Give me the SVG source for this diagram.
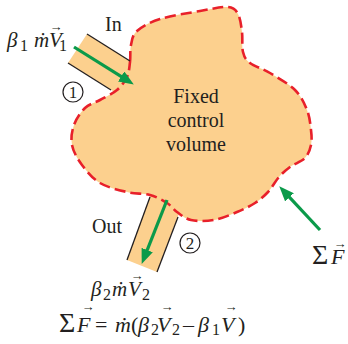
<svg xmlns="http://www.w3.org/2000/svg" width="348" height="344" viewBox="0 0 348 344">
  <style>
    text { font-family: "Liberation Serif", "DejaVu Serif", serif; fill: #231f20; }
    .lbl { font-size: 20px; }
    .m { font-size: 21px; }
    .eq { font-size: 22px; }
    .it { font-style: italic; }
    .sub { font-size: 16px; }
    .vec { font-size: 13px; text-anchor: middle; }
    .pipe { fill: #fcd08e; stroke: none; }
    .wall { stroke: #231f20; stroke-width: 1.3; fill: none; }
    .flow { stroke: #0b9a4a; stroke-width: 3.2; fill: none; marker-end: url(#ah); }
    .num { fill: none; stroke: #231f20; stroke-width: 1.2; }
  </style>
  <defs>
    <marker id="ah" markerUnits="userSpaceOnUse" markerWidth="16" markerHeight="12" refX="6" refY="6" orient="auto">
      <path d="M0,0 L15,6 L0,12 z" fill="#0b9a4a"/>
    </marker>
  </defs>

  <g id="inlet-pipe">
    <polygon class="pipe" points="87,34 140,67 121,96 68,63"/>
  </g>
  <g id="outlet-pipe">
    <polygon class="pipe" points="153,188 181,208 157,272 127,260"/>
  </g>

  <g id="control-volume">
    <path d="M130,62 C130.7,56.7 129.8,50.2 131,45 C132.2,39.8 132.2,35.3 137,31 C141.8,26.7 149.5,22.3 160,19 C170.5,15.7 188.7,13 200,11 C211.3,9 221.7,6.5 228,7 C234.3,7.5 235.7,9.8 238,14 C240.3,18.2 241.2,25.7 242,32 C242.8,38.3 241.7,46.8 243,52 C244.3,57.2 245.5,59.5 250,63 C254.5,66.5 262.5,68.5 270,73 C277.5,77.5 288.8,83.8 295,90 C301.2,96.2 304.3,103.3 307,110 C309.7,116.7 310.3,124.2 311,130 C311.7,135.8 312,140.3 311,145 C310,149.7 308.5,154.3 305,158 C301.5,161.7 294.3,163.8 290,167 C285.7,170.2 282.7,172.8 279,177 C275.3,181.2 272,187.7 268,192 C264,196.3 260.2,199.7 255,203 C249.8,206.3 243.8,209.2 237,212 C230.2,214.8 221.7,218.7 214,220 C206.3,221.3 197.2,221.3 191,220 C184.8,218.7 181,214.8 177,212 C173,209.2 171.5,205.8 167,203 C162.5,200.2 156.7,196.8 150,195 C143.3,193.2 135.3,194 127,192 C118.7,190 107.5,187.5 100,183 C92.5,178.5 86.7,171.3 82,165 C77.3,158.7 73.3,151.7 72,145 C70.7,138.3 71.8,131.2 74,125 C76.2,118.8 80.7,112.2 85,108 C89.3,103.8 94.7,103 100,100 C105.3,97 112.5,93.8 117,90 C121.5,86.2 124.8,81.7 127,77 C129.2,72.3 129.3,67.3 130,62 Z" fill="#fcd08e" stroke="#e8202a" stroke-width="2.6" stroke-dasharray="11 5"/>
    <text class="lbl" x="196" y="103" text-anchor="middle">Fixed</text>
    <text class="lbl" x="196" y="127" text-anchor="middle">control</text>
    <text class="lbl" x="196" y="151" text-anchor="middle">volume</text>
  </g>

  <g id="pipe-walls">
    <line class="wall" x1="87" y1="34" x2="130" y2="61"/>
    <line class="wall" x1="68" y1="63" x2="111" y2="90"/>
    <line class="wall" x1="150" y1="197" x2="127" y2="260"/>
    <line class="wall" x1="178" y1="217" x2="157" y2="272"/>
  </g>

  <g id="connectors">
    <line class="flow" x1="74" y1="47" x2="126.2" y2="79.7"/>
    <line class="flow" x1="167" y1="200" x2="145" y2="255.6"/>
    <line class="flow" x1="320" y1="230" x2="285.4" y2="192.9"/>
  </g>

  <g id="label-in">
    <text class="lbl" x="105" y="31">In</text>
  </g>
  <g id="label-out">
    <text class="lbl" x="92" y="233">Out</text>
  </g>

  <g id="section-1">
    <circle class="num" cx="73" cy="92" r="10"/>
    <text x="73" y="98" font-size="17" text-anchor="middle">1</text>
  </g>
  <g id="section-2">
    <circle class="num" cx="190" cy="243" r="10"/>
    <text x="190" y="249" font-size="17" text-anchor="middle">2</text>
  </g>

  <g id="label-inflow">
    <text class="m" y="47"><tspan class="it" x="7">β</tspan><tspan class="sub" x="20" y="51">1</tspan><tspan class="it" x="34" y="47">ṁ</tspan><tspan class="it" x="49" y="47">V</tspan><tspan class="sub" x="59" y="51">1</tspan></text>
    <text class="vec" x="56" y="31">→</text>
  </g>

  <g id="label-outflow">
    <text class="m" y="296"><tspan class="it" x="91">β</tspan><tspan class="sub" x="103" y="300">2</tspan><tspan class="it" x="112" y="296">ṁ</tspan><tspan class="it" x="128" y="296">V</tspan><tspan class="sub" x="142" y="300">2</tspan></text>
    <text class="vec" x="137" y="280">→</text>
  </g>

  <g id="label-force">
    <text y="264"><tspan x="312" font-size="28">Σ</tspan><tspan class="it" x="331" font-size="22">F</tspan></text>
    <text class="vec" x="340" y="248">→</text>
  </g>

  <g id="equation">
    <text class="eq" y="332"><tspan x="59" font-size="28">Σ</tspan><tspan class="it" x="77">F</tspan><tspan x="95">=</tspan><tspan class="it" x="115">ṁ</tspan><tspan x="131">(</tspan><tspan class="it" x="138">β</tspan><tspan class="sub" x="151" y="335">2</tspan><tspan class="it" x="157" y="332">V</tspan><tspan class="sub" x="172" y="335">2</tspan><tspan x="183" y="332">–</tspan><tspan class="it" x="198">β</tspan><tspan class="sub" x="212" y="335">1</tspan><tspan class="it" x="221" y="332">V</tspan><tspan x="238">)</tspan></text>
    <text class="vec" x="88" y="311">→</text>
    <text class="vec" x="167" y="311">→</text>
    <text class="vec" x="231" y="311">→</text>
  </g>
</svg>
